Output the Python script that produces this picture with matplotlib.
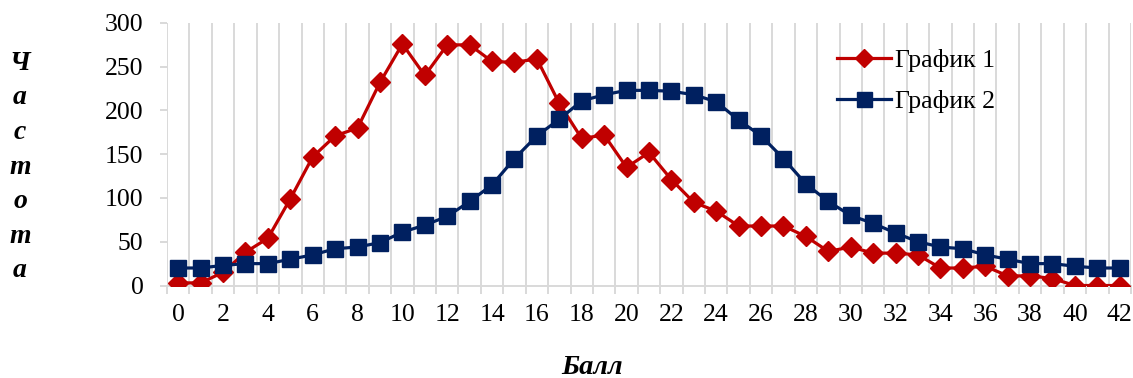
import matplotlib
matplotlib.use("Agg")
import matplotlib.pyplot as plt
from matplotlib.ticker import MultipleLocator, FixedLocator
import numpy as np

plt.rcParams['font.family'] = ['Liberation Serif', 'DejaVu Serif']

# Score categories and frequencies
scores = list(range(0, 43))
series1 = [3, 3, 15, 38, 54, 99, 147, 171, 180, 232, 276, 240, 275, 275, 256,
           255, 259, 208, 168, 172, 135, 152, 121, 95, 85, 68, 68, 68, 56, 39,
           44, 37, 37, 35, 20, 20, 22, 11, 11, 8, 0, 0, 0]
series2 = [20, 20, 23, 25, 25, 30, 35, 42, 44, 49, 61, 69, 79, 96, 115,
           145, 171, 190, 211, 218, 223, 223, 222, 218, 210, 189, 171, 145, 116, 96,
           80, 71, 60, 50, 44, 42, 35, 30, 25, 25, 22, 20, 20]
series_names = ["График 1", "График 2"]
y_ticks = [0, 50, 100, 150, 200, 250, 300]
x_label = "Балл"
y_label = "Частота"

RED = "#C00000"
BLUE = "#002060"
GRID = "#D9D9D9"

fig = plt.figure(figsize=(11.33, 3.78), dpi=100)
ax = fig.add_axes([0.1474, 0.2447, 0.9982 - 0.1474, 0.9392 - 0.2447])

ax.plot(scores, series1, color=RED, lw=2.3, marker="D", ms=10,
        label=series_names[0], zorder=3)
ax.plot(scores, series2, color=BLUE, lw=2.3, marker="s", ms=12,
        label=series_names[1], zorder=3)

ax.set_xlim(-0.5, 42.5)
ax.set_ylim(0, 300)

# Category boundaries carry the gridlines and tick marks
ax.xaxis.set_minor_locator(FixedLocator(np.arange(-0.5, 43, 1.0)))
ax.xaxis.set_major_locator(MultipleLocator(2))
ax.grid(which="minor", axis="x", color=GRID, lw=1.4)
ax.tick_params(axis="x", which="minor", length=6, width=1.4, color=GRID)
ax.tick_params(axis="x", which="major", length=0, pad=13, labelsize=18.5)
ax.set_yticks(y_ticks)
ax.tick_params(axis="y", length=5, width=1.4, color=GRID, pad=12, labelsize=18.5)

for side in ("top", "right", "left"):
    ax.spines[side].set_visible(False)
ax.spines["bottom"].set_color(GRID)
ax.spines["bottom"].set_linewidth(1.4)

leg = ax.legend(loc="upper left", bbox_to_anchor=(837 / 1133, 1 - 49 / 378),
                bbox_transform=fig.transFigure, frameon=False, fontsize=18.5,
                handlelength=2.1, handletextpad=0.15, labelspacing=0.7,
                borderpad=0, borderaxespad=0, markerscale=0.9)

fig.text(592 / 1133, 1 - 367 / 378, x_label, ha="center", va="center",
         fontsize=20.5, fontweight="bold", fontstyle="italic")
fig.text(20 / 1133, 1 - 167 / 378, "\n".join(y_label.lower().capitalize()),
         ha="center", va="center", fontsize=20, fontweight="bold",
         fontstyle="italic", linespacing=1.5)

fig.savefig("out.png", dpi=100)
